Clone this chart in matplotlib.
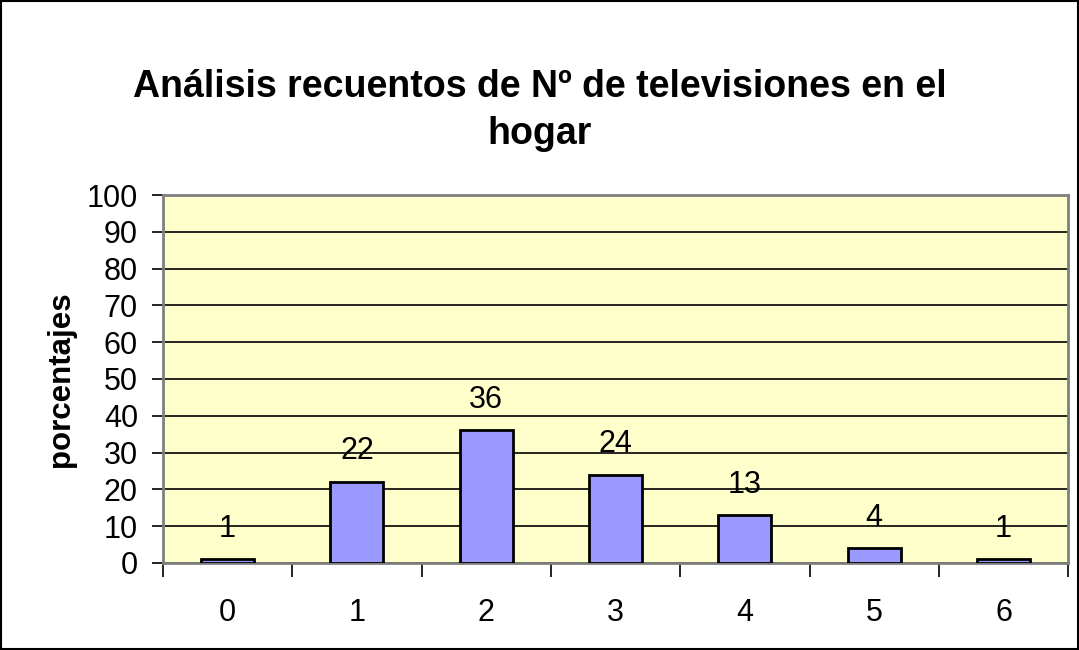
import matplotlib.pyplot as plt
from matplotlib.patches import Rectangle

# Data
categories = ["0", "1", "2", "3", "4", "5", "6"]
porcentajes = [1, 22, 36, 24, 13, 4, 1]
y_ticks = list(range(0, 101, 10))

plt.rcParams['font.family'] = ['Liberation Sans', 'DejaVu Sans']

fig = plt.figure(figsize=(10.79, 6.5), dpi=100)
ax = fig.add_axes([0.151, 0.134, 0.839, 0.566])

# Bars
x = list(range(len(categories)))
ax.bar(x, porcentajes, width=0.41, color='#9999FF', edgecolor='black',
       linewidth=2, zorder=3)

# Data labels
for xi, v in zip(x, porcentajes):
    ax.annotate(str(v), (xi, v), xytext=(0, 22), textcoords='offset points',
                ha='center', va='center', fontsize=22)

# Axes styling
ax.set_facecolor('#FFFFCC')
ax.set_xlim(-0.5, len(categories) - 0.5)
ax.set_ylim(0, 100)
ax.set_yticks(y_ticks)
ax.tick_params(axis='y', labelsize=22, length=8, width=1.2, direction='out', pad=10)
ax.yaxis.grid(True, color='black', linewidth=1.2, zorder=0)
ax.set_axisbelow(True)

ax.set_xticks(x)
ax.set_xticklabels(categories)
ax.set_xticks([i - 0.5 for i in range(len(categories) + 1)], minor=True)
ax.tick_params(axis='x', which='major', length=0, labelsize=22, pad=25)
ax.tick_params(axis='x', which='minor', length=10, width=1.2, direction='out')

for side in ['top', 'right', 'left', 'bottom']:
    ax.spines[side].set_color('#808080')
    ax.spines[side].set_linewidth(2)

ax.set_ylabel('porcentajes', fontsize=22.5, fontweight='bold', labelpad=8)

fig.text(0.5, 0.83, 'Análisis recuentos de Nº de televisiones en el\nhogar',
         ha='center', va='center', fontsize=27, fontweight='bold', linespacing=1.4)

# Figure border
fig.patches.append(Rectangle((0.001, 0.001), 0.998, 0.997, transform=fig.transFigure,
                             fill=False, edgecolor='black', linewidth=1.5))

fig.savefig('out.png', dpi=100)
